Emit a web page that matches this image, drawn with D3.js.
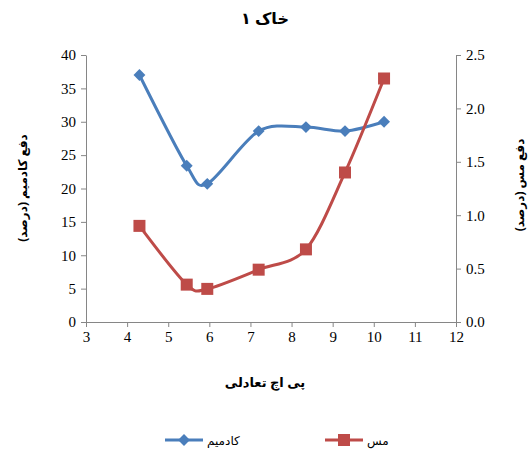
<!DOCTYPE html>
<html>
<head>
<meta charset="utf-8">
<script src="https://cdn.jsdelivr.net/npm/d3@7"></script>
<style>
  body { margin: 0; background: #fff; }
  .fa { font-family: "Noto Sans", "DejaVu Sans", sans-serif; }
</style>
</head>
<body>
<svg id="chart" width="530" height="455"></svg>
<script>
//
// Data
//
var phValues = [4.3, 5.45, 5.95, 7.2, 8.35, 9.3, 10.25]
var cadmium = [37, 23.4, 20.7, 28.6, 29.2, 28.6, 30]
var copper = [0.9, 0.35, 0.31, 0.49, 0.68, 1.4, 2.28]
var xTicks = [3, 4, 5, 6, 7, 8, 9, 10, 11, 12]
var leftTicks = [0, 5, 10, 15, 20, 25, 30, 35, 40]
var rightTicks = [0, 0.5, 1, 1.5, 2, 2.5]

var colorCd = '#4A7EBB'
var colorCu = '#BE4B48'
var colorAxis = '#868686'
var serif = "'Liberation Serif', 'DejaVu Serif', serif"

var svg = d3.select('#chart')

var x = d3.scaleLinear().domain([3, 12]).range([86, 456])
var yL = d3.scaleLinear().domain([0, 40]).range([322, 55])
var yR = d3.scaleLinear().domain([0, 2.5]).range([322, 55])

function styleAxis(g) {
  g.attr('font-family', serif).attr('font-size', 15)
  g.selectAll('path, line').attr('stroke', colorAxis)
  g.selectAll('text').attr('fill', '#000')
}

svg.append('g')
  .attr('transform', 'translate(0,322)')
  .call(d3.axisBottom(x).tickValues(xTicks).tickSize(5).tickSizeOuter(0).tickPadding(4))
  .call(styleAxis)

svg.append('g')
  .attr('transform', 'translate(86,0)')
  .call(d3.axisLeft(yL).tickValues(leftTicks).tickSize(5).tickSizeOuter(0).tickPadding(5))
  .call(styleAxis)

svg.append('g')
  .attr('transform', 'translate(456,0)')
  .call(d3.axisRight(yR).tickValues(rightTicks).tickSize(5).tickSizeOuter(0).tickPadding(5)
    .tickFormat(d3.format('.1f')))
  .call(styleAxis)

//
// Series
//
var cdData = phValues.map(function(p, i) { return [p, cadmium[i]] })
var cuData = phValues.map(function(p, i) { return [p, copper[i]] })

var lineCd = d3.line().x(d => x(d[0])).y(d => yL(d[1])).curve(d3.curveCardinal.tension(0.1))
var lineCu = d3.line().x(d => x(d[0])).y(d => yR(d[1])).curve(d3.curveCardinal.tension(0.1))

svg.append('path').attr('d', lineCd(cdData))
  .attr('fill', 'none').attr('stroke', colorCd).attr('stroke-width', 3)
svg.append('path').attr('d', lineCu(cuData))
  .attr('fill', 'none').attr('stroke', colorCu).attr('stroke-width', 3)

var diamond = d3.symbol().type(d3.symbolDiamond2).size(90)
svg.selectAll('.cd').data(cdData).enter().append('path')
  .attr('d', diamond)
  .attr('transform', d => 'translate(' + x(d[0]) + ',' + yL(d[1]) + ')')
  .attr('fill', colorCd)

svg.selectAll('.cu').data(cuData).enter().append('rect')
  .attr('x', d => x(d[0]) - 6)
  .attr('y', d => yR(d[1]) - 6)
  .attr('width', 12).attr('height', 12)
  .attr('fill', colorCu)

//
// Texts
//
function faText(t, size) {
  return svg.append('text').attr('class', 'fa')
    .attr('text-anchor', 'middle').attr('font-weight', 'bold').attr('direction', 'rtl')
    .style('font-size', size + 'px').text(t)
}

faText('خاک ۱', 16).attr('x', 265).attr('y', 24)
faText('پی اچ تعادلی', 13).attr('x', 265).attr('y', 387)
faText('دفع کادمیم (درصد)', 12).attr('transform', 'translate(27,188) rotate(-90)')
faText('دفع مس (درصد)', 12).attr('transform', 'translate(524,185) rotate(-90)')

//
// Legend
//
var legend = [
  { name: 'کادمیم', color: colorCd, x: 165, shape: 'diamond' },
  { name: 'مس', color: colorCu, x: 325, shape: 'square' }
]
legend.forEach(function(l) {
  var g = svg.append('g').attr('transform', 'translate(' + l.x + ',440)')
  g.append('line').attr('x1', 0).attr('x2', 38).attr('y1', 0).attr('y2', 0)
    .attr('stroke', l.color).attr('stroke-width', 3)
  if (l.shape === 'diamond') {
    g.append('path').attr('d', diamond).attr('transform', 'translate(19,0)').attr('fill', l.color)
  } else {
    g.append('rect').attr('x', 13).attr('y', -6).attr('width', 12).attr('height', 12).attr('fill', l.color)
  }
  g.append('text').attr('class', 'fa').attr('x', 42).attr('y', 5)
    .style('font-size', '12px').attr('text-anchor', 'start')
    .text(l.name)
})
</script>
</body>
</html>
